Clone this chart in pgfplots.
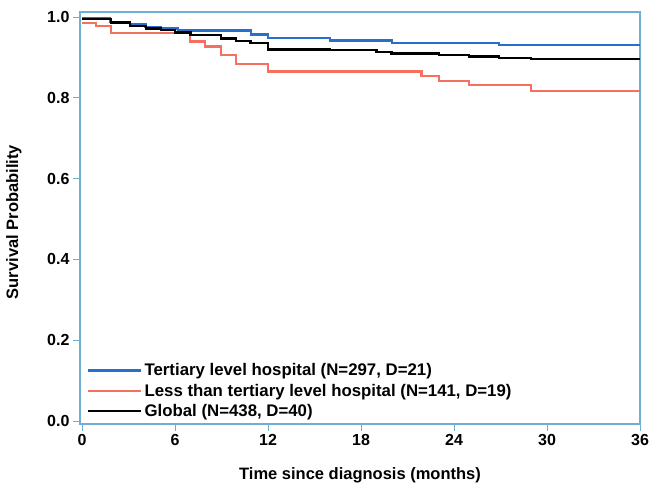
\documentclass[border=0pt]{standalone}
\usepackage{fontspec}
\setmainfont{Liberation Sans}
\usepackage{pgfplots}
\pgfplotsset{compat=1.18}
\definecolor{cblue}{RGB}{40,110,205}
\definecolor{cred}{RGB}{245,112,95}
\definecolor{cframe}{RGB}{110,175,210}
\begin{document}
\begin{tikzpicture}
\path[use as bounding box] (-80pt,-63pt) rectangle (570pt,424pt);
\begin{axis}[
  scale only axis, width=560pt, height=412pt,
  at={(0pt,0pt)}, anchor=south west,
  xmin=-0.13, xmax=36, ymin=-0.0074, ymax=1.0124,
  axis line style={cframe, line width=1.2pt},
  tick style={cframe, line width=1pt},
  tick align=outside, major tick length=7pt,
  xtick pos=left, ytick pos=left,
  xtick={0,6,12,18,24,30,36},
  ytick={0,0.2,0.4,0.6,0.8,1.0},
  /pgf/number format/assume math mode=true,
  yticklabel style={/pgf/number format/fixed, /pgf/number format/fixed zerofill, /pgf/number format/precision=1},
  ticklabel style={font=\fontsize{16}{18}\selectfont\bfseries},
  xlabel={Time since diagnosis (months)},
  ylabel={Survival Probability},
  label style={font=\fontsize{16.5}{19}\selectfont\bfseries},
  xlabel style={at={(axis description cs:0.5,0)}, anchor=center, yshift=-51pt},
  ylabel style={at={(axis description cs:-0.118,0.49)}, anchor=center, rotate=0},
  legend cell align=left,
  legend image code/.code={\draw[#1] (0pt,0pt) -- (53pt,0pt);},
  legend style={at={(axis description cs:0,0)}, anchor=south west, draw=none, fill=none,
    font=\fontsize{16.8}{19}\selectfont\bfseries, row sep=2.5pt, inner sep=2pt, xshift=5pt, yshift=2pt},
]
\addplot[const plot, cblue, line width=2.4pt] coordinates {
(0,0.997)(1.8,0.988)(3.1,0.983)(4.1,0.976)(5.1,0.972)(6.2,0.967)(10.9,0.957)(12,0.948)(16,0.942)(20,0.936)(26.9,0.931)(36,0.931)};
\addlegendentry{Tertiary level hospital (N=297, D=21)}
\addplot[const plot, cred, line width=2.4pt] coordinates {
(0,0.985)(0.9,0.977)(1.87,0.960)(6.95,0.939)(7.92,0.927)(8.95,0.906)(9.92,0.884)(11.98,0.865)(21.9,0.854)(23.05,0.842)(24.98,0.832)(28.98,0.817)(36,0.817)};
\addlegendentry{Less than tertiary level hospital (N=141, D=19)}
\addplot[const plot, black, line width=2.4pt] coordinates {
(0,0.995)(1.87,0.986)(3.09,0.978)(4.12,0.972)(5.09,0.968)(6.0,0.962)(7.0,0.955)(8.95,0.947)(9.92,0.941)(10.88,0.935)(11.98,0.920)(15.97,0.918)(19.0,0.913)(19.96,0.910)(23.05,0.906)(24.98,0.902)(26.92,0.899)(28.98,0.896)(36,0.896)};
\addlegendentry{Global (N=438, D=40)}
\end{axis}
\end{tikzpicture}
\end{document}
